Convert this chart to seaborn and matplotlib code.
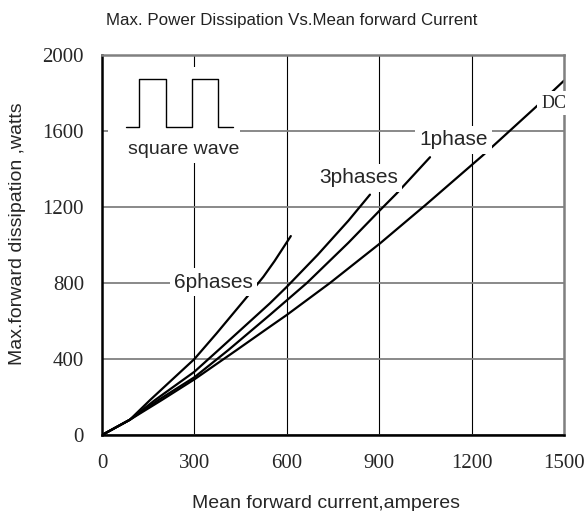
import pandas as pd
import seaborn as sns
from matplotlib import pyplot as plt
from matplotlib.patches import Rectangle

# curve data (mean forward current A, dissipation W)
x_6phases = [0, 90, 156, 300, 372, 426, 480, 524, 560, 613]
y_6phases = [0, 80, 184, 400, 535, 640, 745, 833, 915, 1047]

x_3phases = [0, 90, 172, 300, 378, 545, 600, 700, 800, 870]
y_3phases = [0, 80, 184, 333, 447, 693, 780, 948, 1128, 1265]

x_1phase = [0, 90, 183, 300, 410, 545, 665, 800, 900, 957, 1065]
y_1phase = [0, 80, 184, 304, 447, 632, 800, 1012, 1179, 1272, 1462]

x_dc = [0, 90, 194, 300, 437, 545, 600, 740, 903, 1050, 1238, 1422, 1500]
y_dc = [0, 80, 184, 293, 447, 570, 632, 800, 1009, 1210, 1474, 1746, 1865]

# little square wave symbol in the upper left corner
wave_x = [78, 121, 208, 291, 376, 426]
wave_y = [1620, 1872, 1620, 1872, 1620, 1620]

x_ticks = [0, 300, 600, 900, 1200, 1500]
y_ticks = [0, 400, 800, 1200, 1600, 2000]

series = {'6phases': (x_6phases, y_6phases),
          '3phases': (x_3phases, y_3phases),
          '1phase': (x_1phase, y_1phase),
          'DC': (x_dc, y_dc)}

df = pd.concat([pd.DataFrame({'current': xs, 'power': ys, 'curve': name})
                for name, (xs, ys) in series.items()], ignore_index=True)

sns.set_style('white')
plt.rcParams['font.family'] = ['Liberation Sans', 'DejaVu Sans']

fig = plt.figure(figsize=(5.88, 5.11), dpi=100)
ax = fig.add_axes([0.1735, 0.1487, 0.7857, 0.7437])

sns.lineplot(data=df, x='current', y='power', units='curve', estimator=None,
             color='black', linewidth=1.6, ax=ax, zorder=2)

ax.set_xlim(0, 1500)
ax.set_ylim(0, 2000)
ax.set_xticks(x_ticks)
ax.set_yticks(y_ticks)
ax.set_xticklabels([str(t) for t in x_ticks], family='Liberation Serif',
                   fontsize=15)
ax.set_yticklabels([str(t) for t in y_ticks], family='Liberation Serif',
                   fontsize=15)
ax.tick_params(axis='x', length=0, pad=14)
ax.tick_params(axis='y', length=0, pad=13)

ax.set_axisbelow(True)
ax.xaxis.grid(True, color='black', linewidth=0.8)
ax.yaxis.grid(True, color='#808080', linewidth=1.3)

for side in ['left', 'bottom']:
    ax.spines[side].set_color('black')
    ax.spines[side].set_linewidth(1.8)
for side in ['top', 'right']:
    ax.spines[side].set_color('#808080')
    ax.spines[side].set_linewidth(1.8)

ax.set_xlabel('Mean forward current,amperes', fontsize=14, va='center')
ax.xaxis.set_label_coords(0.485, -0.18)
ax.set_ylabel('Max.forward dissipation ,watts', fontsize=14, va='center')
ax.yaxis.set_label_coords(-0.184, 0.53)

fig.text(0.496, 0.959, 'Max. Power Dissipation Vs.Mean forward Current',
         ha='center', va='center', fontsize=12.2, color='#222222')

# square wave inset
ax.add_patch(Rectangle((20, 1430), 428, 505, facecolor='white',
                       edgecolor='none', zorder=1))
ax.step(wave_x, wave_y, where='post', color='black', linewidth=1.0,
        zorder=2)
ax.text(265, 1505, 'square wave', ha='center', va='center', fontsize=14,
        zorder=3)

# curve labels on white boxes that break the curves and grid
box = dict(boxstyle='square,pad=0.2', facecolor='white', edgecolor='none')
ax.text(361, 805, '6phases', ha='center', va='center', fontsize=15,
        bbox=box, zorder=3)
ax.text(834, 1353, '3phases', ha='center', va='center', fontsize=15,
        bbox=box, zorder=3)
ax.text(1140, 1553, '1phase', ha='center', va='center', fontsize=15,
        bbox=box, zorder=3)
ax.text(1466, 1747, 'DC', ha='center', va='center', fontsize=13,
        family='Liberation Serif', bbox=box, zorder=3)

fig.savefig('out.png', dpi=100)
plt.close()
